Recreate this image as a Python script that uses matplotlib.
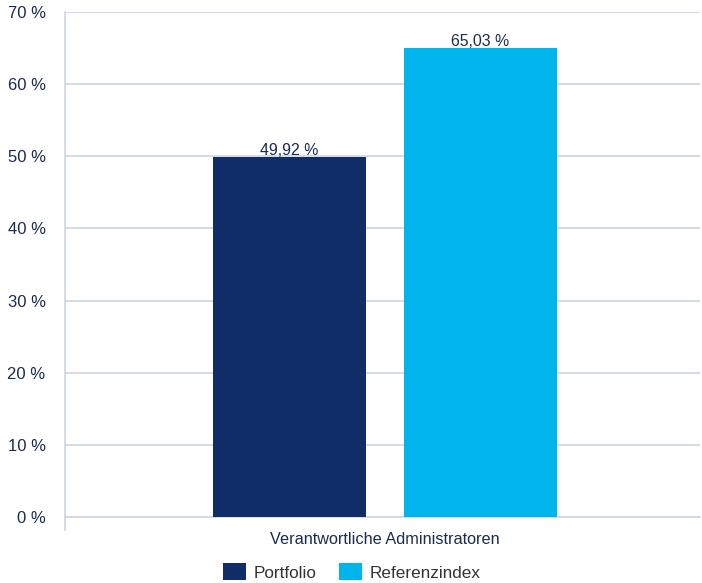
import matplotlib.pyplot as plt

plt.rcParams['font.family'] = ['Liberation Sans', 'DejaVu Sans']

# data
category = 'Verantwortliche Administratoren'
series = ['Portfolio', 'Referenzindex']
values = [49.92, 65.03]
colors = ['#112d67', '#00b5ec']
yticks = [0, 10, 20, 30, 40, 50, 60, 70]

txt = '#1a2b4c'
grid = '#ccd6e4'

fig = plt.figure(figsize=(7.02, 5.83), dpi=100)
ax = fig.add_axes([0.0926, 0.1132, 0.9046, 0.8662])

x_pos = [i for i, _ in enumerate(series)]
for i in x_pos:
    ax.bar(x_pos[i], values[i], 0.8, color=colors[i], label=series[i], zorder=3)
    lab = ('%.2f %%' % values[i]).replace('.', ',')
    ax.text(x_pos[i], values[i] - 0.1, lab, ha='center', va='bottom',
            fontsize=11.4, color=txt, zorder=4)

ax.set_xlim(-1.175, 2.15)
ax.set_ylim(0, 70)
ax.set_yticks(yticks)
ax.set_yticklabels(['%d %%' % v for v in yticks])
ax.set_xticks([0.5])
ax.set_xticklabels([category])
ax.set_xticks([-1.175], minor=True)
ax.tick_params(axis='x', which='major', length=0, pad=11, labelsize=11.7, labelcolor=txt)
ax.tick_params(axis='x', which='minor', length=10, width=1.2, color=grid)
ax.tick_params(axis='y', length=0, pad=14, labelsize=12, labelcolor=txt)

ax.grid(axis='y', color=grid, linewidth=1.2, zorder=0)
for s in ['top', 'right']:
    ax.spines[s].set_visible(False)
for s in ['left', 'bottom']:
    ax.spines[s].set_color(grid)
    ax.spines[s].set_linewidth(1.2)

fig.legend(loc='center', bbox_to_anchor=(352/702, 11/583), ncol=2, frameon=False,
           fontsize=12.3, handlelength=1.35, handleheight=1.1, handletextpad=0.45,
           columnspacing=1.3, labelcolor='#333333')

fig.savefig('out.png', dpi=100)
